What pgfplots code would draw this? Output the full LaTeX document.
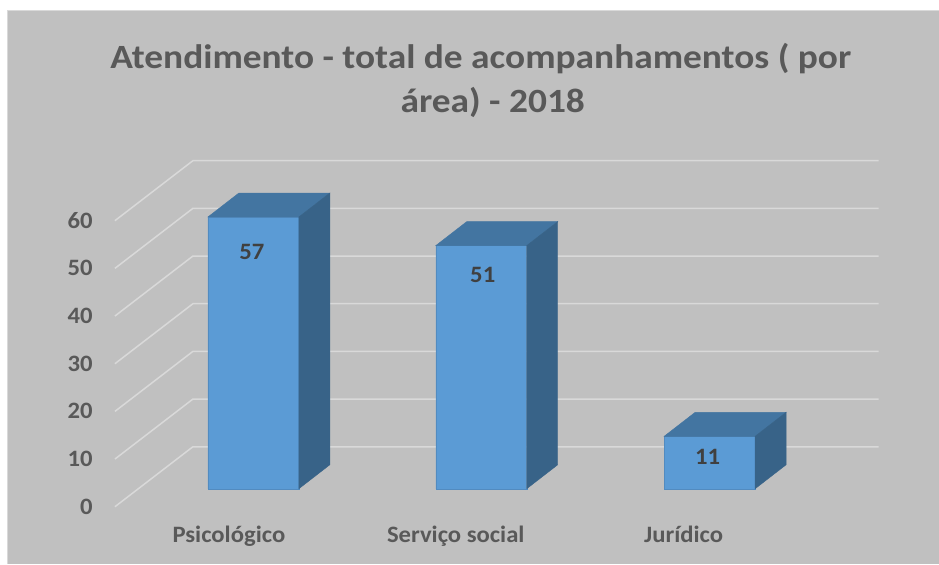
\documentclass[border=0pt]{standalone}
\usepackage{pgfplots}
\pgfplotsset{compat=1.18}
\usepackage{pgfplotstable}
\usepackage{fontspec}
\setmainfont{Carlito}
\definecolor{bg}{RGB}{192,192,192}
\definecolor{gridc}{RGB}{217,217,217}
\definecolor{front}{RGB}{91,155,213}
\definecolor{topc}{RGB}{67,117,161}
\definecolor{sidec}{RGB}{56,99,136}
\definecolor{txt}{RGB}{89,89,89}
\definecolor{val}{RGB}{64,64,64}
\pgfplotstableread{
x v
253.5 57
481.5 51
710 11
}\bars
\tikzset{small/.style={font=\fontsize{23.5}{28}\selectfont\bfseries, xscale=1.05}}
\begin{document}
\begin{tikzpicture}
\begin{axis}[
  scale only axis, width=939pt, height=564pt,
  xmin=0, xmax=939, ymin=-15.72, ymax=102.52,
  axis lines=none, clip=false,
]
% background
\fill[white] (axis cs:0,-15.72) rectangle (axis cs:939,102.52);
\fill[bg] (axis cs:7.5,-15.72) rectangle (axis cs:939,100.3);
\draw[gridc, line width=1pt] (axis cs:7.5,-15.72) -- (axis cs:7.5,100.3) -- (axis cs:939,100.3);
% gridlines (front floor -> back wall)
\addplot[gridc, line width=1.5pt] coordinates {(115,-3.77) (193,8.81) (879,8.81)};
\addplot[gridc, line width=1.5pt] coordinates {(115,6.23) (193,18.81) (879,18.81)};
\addplot[gridc, line width=1.5pt] coordinates {(115,16.23) (193,28.81) (879,28.81)};
\addplot[gridc, line width=1.5pt] coordinates {(115,26.23) (193,38.81) (879,38.81)};
\addplot[gridc, line width=1.5pt] coordinates {(115,36.23) (193,48.81) (879,48.81)};
\addplot[gridc, line width=1.5pt] coordinates {(115,46.23) (193,58.81) (879,58.81)};
\addplot[gridc, line width=1.5pt] coordinates {(115,56.23) (193,68.81) (879,68.81)};
% bars: front faces
\addplot[ybar, bar width=91, bar shift=0pt, fill=front, draw=front!90!black, line width=0.4pt] table[x=x,y=v] {\bars};
% top faces
\addplot[fill=topc, draw=topc, line width=0.4pt] coordinates {(208,57) (239,62.03) (330,62.03) (299,57)} -- cycle;
\addplot[fill=topc, draw=topc, line width=0.4pt] coordinates {(436,51) (467,56.03) (558,56.03) (527,51)} -- cycle;
\addplot[fill=topc, draw=topc, line width=0.4pt] coordinates {(664.5,11) (695.5,16.03) (786.5,16.03) (755.5,11)} -- cycle;
% side faces
\addplot[fill=sidec, draw=sidec, line width=0.4pt] coordinates {(299,0) (330,5.03) (330,62.03) (299,57)} -- cycle;
\addplot[fill=sidec, draw=sidec, line width=0.4pt] coordinates {(527,0) (558,5.03) (558,56.03) (527,51)} -- cycle;
\addplot[fill=sidec, draw=sidec, line width=0.4pt] coordinates {(755.5,0) (786.5,5.03) (786.5,16.03) (755.5,11)} -- cycle;
% value labels
\node[small, text=val] at (axis cs:252,49.69) {57};
\node[small, text=val] at (axis cs:483,44.86) {51};
\node[small, text=val] at (axis cs:708,6.71) {11};
% y tick labels
\pgfplotsinvokeforeach{0,10,20,30,40,50,60}{
  \node[small, anchor=east, text=txt, inner sep=0pt] at (axis cs:93,#1-3.77) {#1};
}
% category labels
\node[small, anchor=base, text=txt] at (axis cs:229,-11.32) {Psicológico};
\node[small, anchor=base, text=txt] at (axis cs:456,-11.32) {Serviço social};
\node[small, anchor=base, text=txt] at (axis cs:684,-11.32) {Jurídico};
% title
\node[text=txt, font=\fontsize{34}{40}\selectfont\bfseries, xscale=1.1, anchor=base] at (axis cs:481,88.05) {Atendimento - total de acompanhamentos ( por};
\node[text=txt, font=\fontsize{34}{40}\selectfont\bfseries, xscale=1.1, anchor=base] at (axis cs:493,78.82) {área) - 2018};
\end{axis}
\end{tikzpicture}
\end{document}
